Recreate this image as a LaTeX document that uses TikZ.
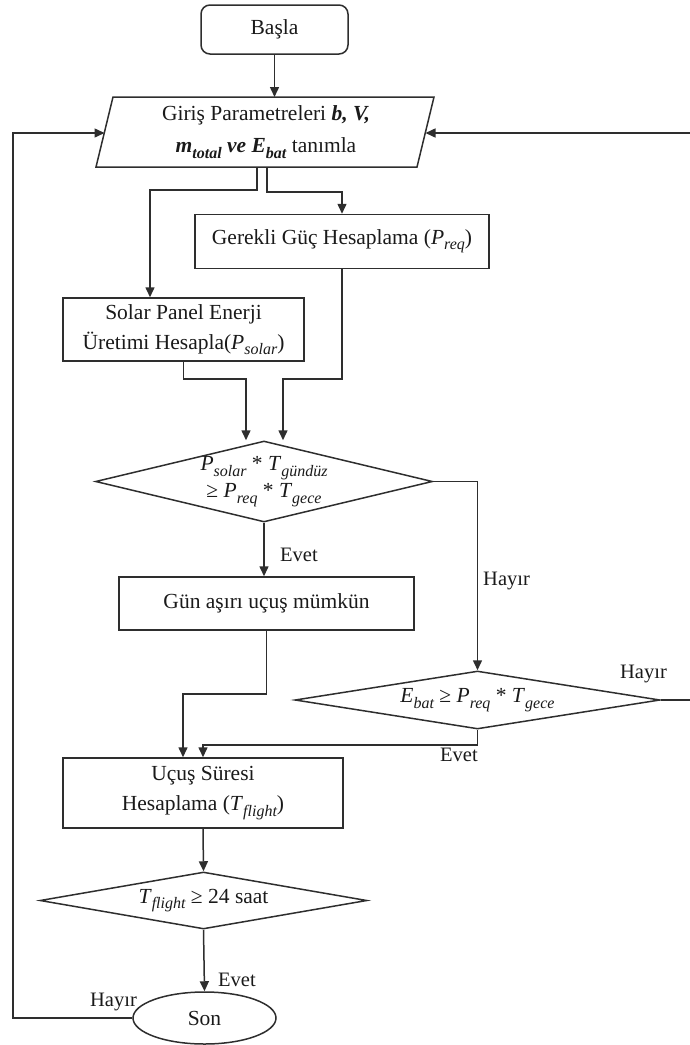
\documentclass[tikz,border=0pt]{standalone}
\usepackage{fontspec}
\setmainfont{Liberation Serif}
\usetikzlibrary{arrows.meta,shapes.geometric}
\newcommand\sbs[1]{\raisebox{-0.25em}{\fontsize{16}{16}\selectfont\itshape #1}}
\newcommand\mv[2]{\textit{#1}\sbs{#2}}
\newcommand\bmv[2]{\textbf{\textit{#1}\sbs{\bfseries #2}}}
\definecolor{lc}{HTML}{2E2E2E}
\definecolor{tc}{HTML}{1A1A1A}
\begin{document}
\begin{tikzpicture}[x=1pt,y=-1pt,
  base/.style={draw=lc, line width=1.5pt, inner sep=0pt, align=center, text=tc,
               font=\fontsize{21.5}{30}\selectfont},
  proc/.style={base, rectangle},
  decision/.style={draw=lc, line width=1.5pt, shape=diamond, inner sep=0pt},
  dtext/.style={inner sep=0pt, align=center, text=tc, font=\fontsize{21.5}{27}\selectfont},
  lab/.style={inner sep=0pt, text=tc, font=\fontsize{20.5}{22}\selectfont},
  conn/.style={draw=lc, line width=1.5pt},
  arr/.style={conn, -{Triangle[length=10pt,width=9pt]}}
]
\useasboundingbox (0,0) rectangle (689,1045);

% Start
\node[base, rounded corners=9pt, minimum width=147pt, minimum height=49pt] (start) at (274.5,29.5) {Başla};

% Input parallelogram
\coordinate (pA) at (113,97);
\coordinate (pB) at (434,97);
\coordinate (pC) at (417,167);
\coordinate (pD) at (96,167);
\draw[conn, line join=miter] (pA) -- (pB) -- (pC) -- (pD) -- cycle;
\coordinate (pTop) at (274.5,97);
\coordinate (pL) at (104.5,133);
\coordinate (pR) at (425.5,133);
\coordinate (pb1) at (257,167);
\coordinate (pb2) at (267,167);
\node[inner sep=0pt, align=center, text=tc, font=\fontsize{21.5}{32}\selectfont] (input) at (266,132)
  {Giriş Parametreleri \textbf{\textit{b, V,}}\\ \bmv{m}{total} \textbf{\textit{ve}} \bmv{E}{bat} tanımla};

% Processes
\node[proc, minimum width=294pt, minimum height=54pt] (req) at (342,241.5) {Gerekli Güç Hesaplama (\mv{P}{req})};
\node[proc, minimum width=241pt, minimum height=63pt] (solar) at (183.5,329.5) {Solar Panel Enerji\\Üretimi Hesapla(\mv{P}{solar})};

% Decision 1
\node[decision, minimum width=337pt, minimum height=81pt] (d1) at (264,481.5) {};
\node[dtext] (d1t) at (d1) {\mv{P}{solar} * \mv{T}{gündüz}\\ ≥ \mv{P}{req} * \mv{T}{gece}};

\node[proc, minimum width=295pt, minimum height=53pt] (gun) at (266.5,603.5) {Gün aşırı uçuş mümkün};

% Decision 2
\node[decision, minimum width=365pt, minimum height=58pt] (d2) at (477.5,700) {};
\node[dtext] (d2t) at (d2) {\mv{E}{bat} ≥ \mv{P}{req} * \mv{T}{gece}};

\node[proc, minimum width=280pt, minimum height=70pt] (flight) at (203,793) {Uçuş Süresi\\Hesaplama (\mv{T}{flight})};

% Decision 3
\node[decision, minimum width=327pt, minimum height=57pt] (d3) at (203.5,900.5) {};
\node[dtext] (d3t) at (d3) {\mv{T}{flight} ≥ 24 saat};

% End
\node[base, shape=ellipse, minimum width=143pt, minimum height=52pt] (son) at (204.5,1018) {Son};

% Connectors
\draw[arr] (start.south) -- (pTop);
\draw[arr] (pb1) -- ++(0,23) -| ([xshift=-33.5pt]solar.north);
\draw[arr] (pb2) -- ++(0,25) -| (req.north);
\draw[arr] (solar.south) -- ++(0,17) -| ([xshift=-18pt]d1.north);
\draw[arr] (req.south) -- ++(0,109.5) -| ([xshift=19pt]d1.north);
\draw[arr] (d1.south) -- (d1.south |- gun.north);
\node[lab, anchor=west] (e1) at (280,555) {Evet};
\draw[arr] (d1.east) -| (d2.north);
\node[lab, anchor=west] (h1) at (483,581) {Hayır};
\draw[arr] (gun.south) -- ++(0,63) -| ([xshift=-20pt]flight.north);
\draw[arr] (d2.south) -- ++(0,15) -| (flight.north);
\node[lab] (e2) at (459,755) {Evet};
\coordinate (rEdge) at (692,700);
\draw[arr] (d2.east) -- (rEdge) -- (rEdge |- pR) -- (pR);
\node[lab] (h2) at (643.5,674) {Hayır};
\draw[arr] (flight.south) -- (d3.north);
\draw[arr] (d3.south) -- (son.north);
\node[lab, anchor=west] (e3) at (218,980) {Evet};
\coordinate (lEdge) at (13,1018);
\draw[arr] (son.west) -- (lEdge) -- (lEdge |- pL) -- (pL);
\node[lab] (h3) at (113.5,1002) {Hayır};
\end{tikzpicture}
\end{document}
